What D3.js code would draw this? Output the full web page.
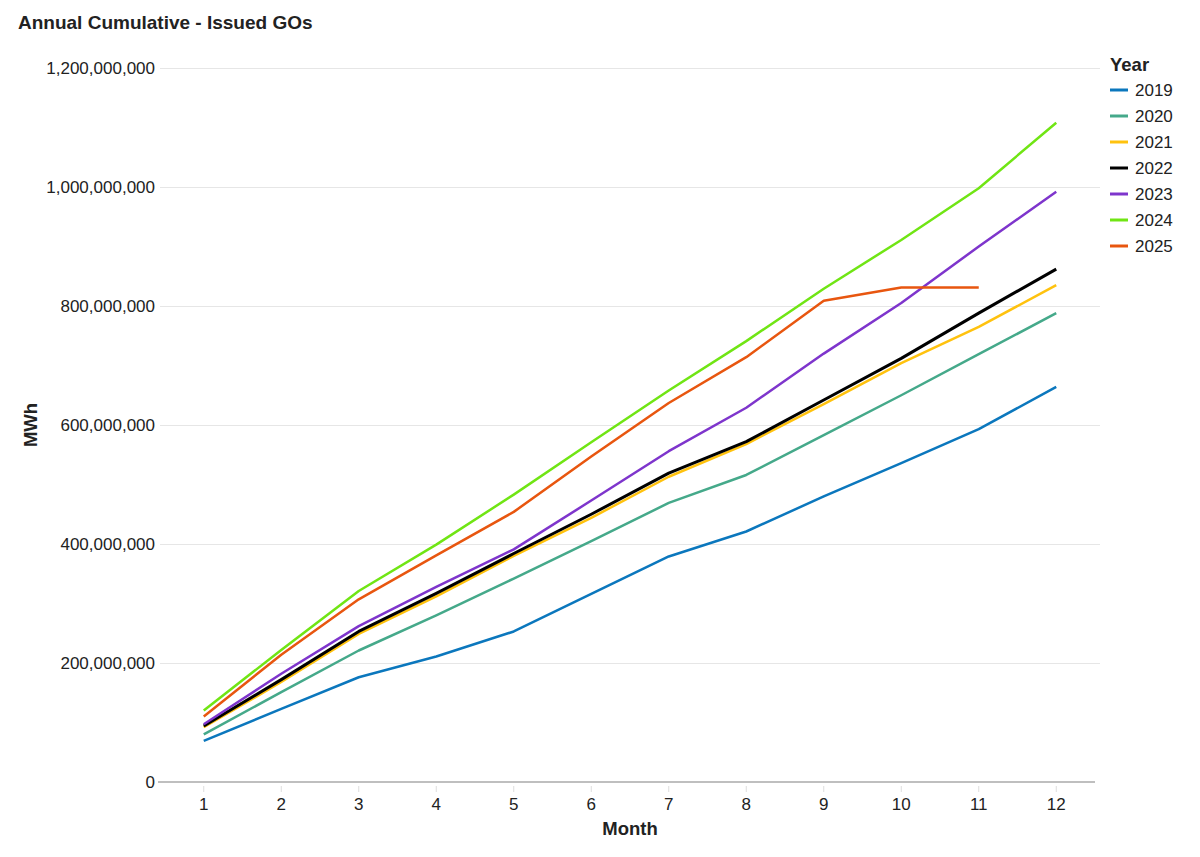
<!DOCTYPE html>
<html>
<head>
<meta charset="utf-8">
<script src="https://cdn.jsdelivr.net/npm/d3@7"></script>
<style>
  body { margin: 0; background: #fff; }
  svg { font-family: "Liberation Sans", Arial, Helvetica, sans-serif; }
</style>
</head>
<body>
<svg id="chart" width="1200" height="857"></svg>
<script>
const months = [1,2,3,4,5,6,7,8,9,10,11,12];
const years = ["2019","2020","2021","2022","2023","2024","2025"];
const colors = ["#0B77BD","#45A98A","#FFC20E","#000000","#7E35CC","#70E514","#E8560F"];
const yTicks = [0,200000000,400000000,600000000,800000000,1000000000,1200000000];

const v2019 = [69e6,123e6,176e6,211e6,253e6,316e6,379e6,421e6,480e6,536e6,593e6,664e6];
const v2020 = [80e6,151e6,221e6,280e6,342e6,405e6,469e6,516e6,583e6,650e6,719e6,788e6];
const v2021 = [92e6,168e6,249e6,312e6,380e6,444e6,513e6,568e6,635e6,704e6,765e6,835e6];
const v2022 = [94e6,172e6,253e6,317e6,384e6,450e6,519e6,572e6,642e6,712e6,788e6,862e6];
const v2023 = [97e6,182e6,262e6,328e6,391e6,473e6,556e6,629e6,720e6,805e6,900e6,992e6];
const v2024 = [120e6,222e6,321e6,399e6,483e6,571e6,658e6,741e6,829e6,911e6,998e6,1108e6];
const v2025 = [110e6,214e6,307e6,381e6,454e6,547e6,637e6,714e6,809e6,831e6,831e6];

const seriesValues = [v2019,v2020,v2021,v2022,v2023,v2024,v2025];

(function () {
const svg = d3.select("#chart");
const mLeft = 165, mRight = 1095, mTop = 68, mBottom = 782;

const x = d3.scaleBand().domain(months).range([mLeft, mRight]);
const y = d3.scaleLinear().domain([0, 1200000000]).range([mBottom, mTop]);

// title
svg.append("text").attr("x", 18).attr("y", 29)
  .attr("font-size", 19).attr("font-weight", "bold").attr("fill", "#222")
  .text("Annual Cumulative - Issued GOs");

// grid
const fmt = d3.format(",");
const gy = svg.append("g").attr("transform", `translate(${mLeft},0)`)
  .call(d3.axisLeft(y).tickValues(yTicks).tickSize(-(mRight - mLeft + 5)).tickPadding(8).tickFormat(fmt));
gy.select(".domain").remove();
gy.selectAll(".tick line").attr("stroke", "#e6e6e6").attr("x1", -5);
gy.selectAll(".tick text").attr("font-size", 17).attr("fill", "#222")
  .attr("font-family", "Liberation Sans, Arial, sans-serif").attr("x", -10);
gy.selectAll(".tick").filter(d => d === 0).select("line").attr("stroke", "none");

// x axis
const gx = svg.append("g").attr("transform", `translate(0,${mBottom})`)
  .call(d3.axisBottom(x).tickSize(8).tickPadding(8));
gx.select(".domain").attr("d", `M${mLeft - 7},0H${mRight}`).attr("stroke", "#aaa").attr("stroke-width", 1.5);
gx.selectAll(".tick line").attr("stroke", "#ddd").attr("y1", 4).attr("y2", 10);
gx.selectAll(".tick text").attr("font-size", 17).attr("fill", "#222")
  .attr("font-family", "Liberation Sans, Arial, sans-serif").attr("y", 16);

// axis titles
svg.append("text").attr("x", 630).attr("y", 835).attr("text-anchor", "middle")
  .attr("font-size", 18.5).attr("font-weight", "bold").attr("fill", "#222").text("Month");
svg.append("text").attr("transform", "translate(37,425) rotate(-90)").attr("text-anchor", "middle")
  .attr("font-size", 18.5).attr("font-weight", "bold").attr("fill", "#222").text("MWh");

// lines
const line = d3.line().x((d, i) => x(months[i]) + x.bandwidth() / 2).y(d => y(d));
years.forEach((yr, k) => {
  svg.append("path").datum(seriesValues[k])
    .attr("fill", "none").attr("stroke", colors[k])
    .attr("stroke-width", k === 3 ? 3 : 2.5)
    .attr("stroke-linejoin", "round")
    .attr("d", line);
});

// legend
const lg = svg.append("g").attr("transform", "translate(1110,0)");
lg.append("text").attr("x", 0).attr("y", 71).attr("font-size", 18.5).attr("font-weight", "bold")
  .attr("fill", "#222").text("Year");
years.forEach((yr, k) => {
  const yy = 90 + k * 26;
  lg.append("line").attr("x1", 0).attr("x2", 18).attr("y1", yy).attr("y2", yy)
    .attr("stroke", colors[k]).attr("stroke-width", 3);
  lg.append("text").attr("x", 25).attr("y", yy + 6).attr("font-size", 17).attr("fill", "#222").text(yr);
});
})();
</script>
</body>
</html>
